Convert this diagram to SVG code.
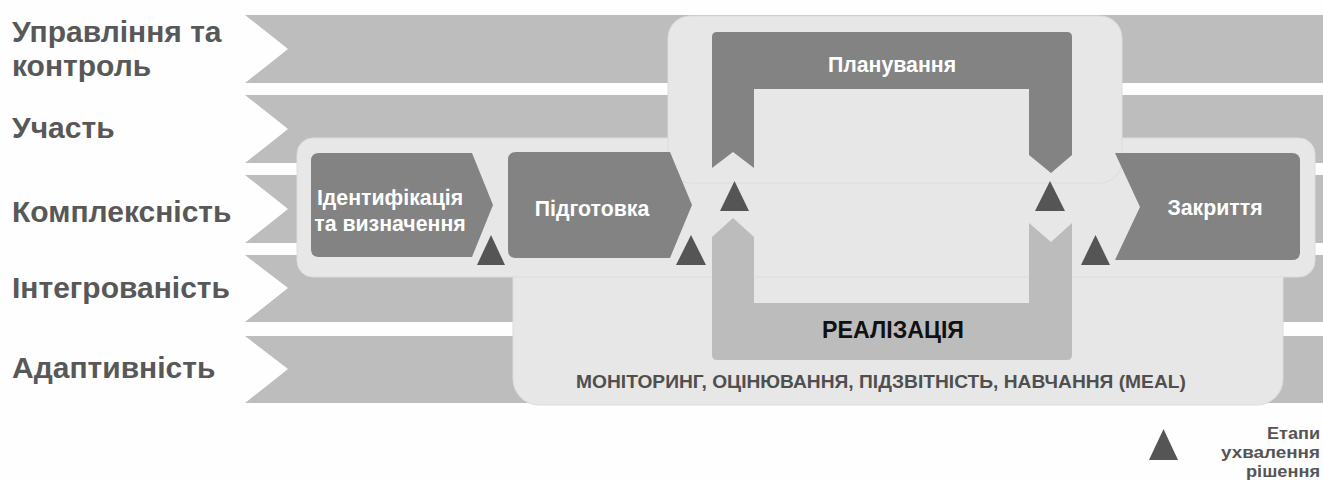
<svg xmlns="http://www.w3.org/2000/svg" width="1323" height="481" viewBox="0 0 1323 481">
  <style>
    .band { fill: #bdbdbd; }
    .panel { fill: #e7e7e7; stroke: #dcdcdc; stroke-width: 1; }
    .phase { fill: #838383; }
    .impl { fill: #bcbcbc; }
    .gate { fill: #555555; }
    .lbl { font-family: "Liberation Sans", Arial, sans-serif; font-weight: bold; font-size: 30px; fill: #585858; }
    .ph { font-family: "Liberation Sans", Arial, sans-serif; font-weight: bold; font-size: 21.3px; fill: #ffffff; text-anchor: middle; }
    .meal { font-family: "Liberation Sans", Arial, sans-serif; font-weight: bold; font-size: 19.2px; fill: #4f4f4f; text-anchor: middle; }
    .impl-t { font-family: "Liberation Sans", Arial, sans-serif; font-weight: bold; font-size: 23.2px; fill: #111111; text-anchor: middle; }
    .leg { font-family: "Liberation Sans", Arial, sans-serif; font-weight: bold; font-size: 16.5px; fill: #555555; text-anchor: end; }
  </style>
  <rect width="1323" height="481" fill="#fefefe"/>

  <!-- principle bands -->
  <g id="bands">
    <polygon class="band" points="245,15 1323,15 1323,83 245,83 288,49"/>
    <polygon class="band" points="245,95 1323,95 1323,163 245,163 288,129"/>
    <polygon class="band" points="245,175 1323,175 1323,243 245,243 288,209"/>
    <polygon class="band" points="245,255 1323,255 1323,322 245,322 288,288"/>
    <polygon class="band" points="245,336 1323,336 1323,403 245,403 288,369"/>
  </g>

  <g id="band-labels">
    <text class="lbl" x="12" y="42">Управління та</text>
    <text class="lbl" x="12" y="76">контроль</text>
    <text class="lbl" x="12" y="138">Участь</text>
    <text class="lbl" x="12" y="222">Комплексність</text>
    <text class="lbl" x="12" y="298">Інтегрованість</text>
    <text class="lbl" x="12" y="378">Адаптивність</text>
  </g>

  <!-- light background panels -->
  <g id="panels">
    <rect class="panel" x="513" y="200" width="770" height="205" rx="26"/>
    <rect class="panel" x="297" y="138" width="1018" height="139" rx="16"/>
    <rect class="panel" x="668" y="16" width="454" height="167" rx="22"/>
  </g>

  <g id="node-identification">
    <path class="phase" d="M319,153 L472,153 L493,205 L472,257 L319,257 Q311,257 311,249 L311,161 Q311,153 319,153 Z"/>
    <text class="ph" x="390" y="205">Ідентифікація</text>
    <text class="ph" x="390" y="231">та визначення</text>
  </g>

  <g id="node-preparation">
    <path class="phase" d="M516,152 L670,152 L692,205 L670,258 L516,258 Q508,258 508,250 L508,160 Q508,152 516,152 Z"/>
    <text class="ph" x="592" y="216">Підготовка</text>
  </g>

  <g id="node-planning">
    <path class="phase" d="M712,168 L712,37 Q712,32 717,32 L1067,32 Q1072,32 1072,37 L1072,155 L1051,173 L1029,155 L1029,89 L754,89 L754,168 L733,152 Z"/>
    <text class="ph" x="892" y="72">Планування</text>
  </g>

  <g id="node-implementation">
    <path class="impl" d="M712,237 L733,218 L754,237 L754,303 L1029,303 L1029,223 L1051,242 L1072,223 L1072,355 Q1072,360 1067,360 L717,360 Q712,360 712,355 Z"/>
    <text class="impl-t" x="893" y="338">РЕАЛІЗАЦІЯ</text>
  </g>

  <g id="node-closure">
    <path class="phase" d="M1115,153 L1292,153 Q1300,153 1300,161 L1300,252 Q1300,260 1292,260 L1115,260 L1140,207 Z"/>
    <text class="ph" x="1215" y="215">Закриття</text>
  </g>

  <g id="node-meal">
    <text class="meal" x="881" y="388">МОНІТОРИНГ, ОЦІНЮВАННЯ, ПІДЗВІТНІСТЬ, НАВЧАННЯ (MEAL)</text>
  </g>

  <!-- decision gates between phases -->
  <g id="connectors">
    <polygon class="gate" points="477,265 491,235 505,265"/>
    <polygon class="gate" points="676,265 691,235 706,265"/>
    <polygon class="gate" points="720,211 734.5,181 749,211"/>
    <polygon class="gate" points="1035,211 1050,181 1065,211"/>
    <polygon class="gate" points="1081,265 1095.5,235 1110,265"/>
  </g>

  <g id="legend">
    <polygon class="gate" points="1149,460 1163.5,429 1178,460"/>
    <text class="leg" x="1320" y="439" textLength="53" lengthAdjust="spacingAndGlyphs">Етапи</text>
    <text class="leg" x="1320" y="458" textLength="99" lengthAdjust="spacingAndGlyphs">ухвалення</text>
    <text class="leg" x="1320" y="477" textLength="74" lengthAdjust="spacingAndGlyphs">рішення</text>
  </g>
</svg>
